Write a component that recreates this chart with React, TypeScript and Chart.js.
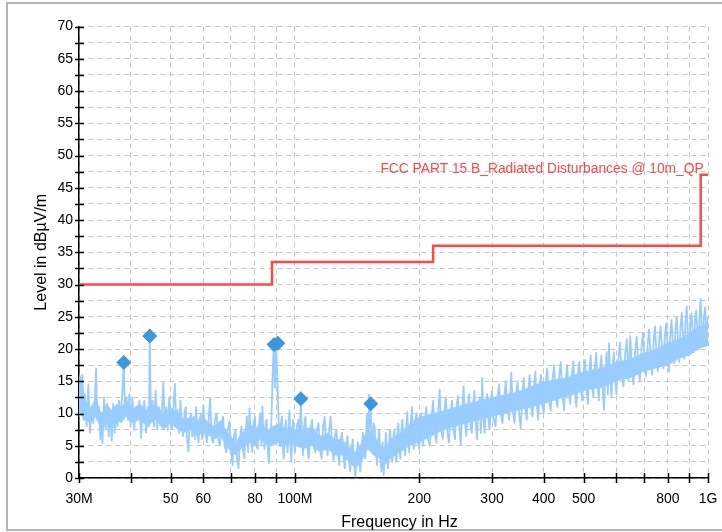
import { useEffect, useRef } from 'react';
import { Chart, registerables } from 'chart.js';

Chart.register(...registerables);

// ---- Data (frequencies in MHz, levels in dBµV/m) ----
const spectrumFreqMHz = [
  30.0, 30.2, 30.4, 30.6, 30.8, 31.0, 31.3, 31.6, 31.9, 32.2, 32.5, 32.8, 33.0, 33.2, 33.5, 33.8, 34.0, 34.2, 34.5, 34.8,
  35.1, 35.4, 35.7, 36.0, 36.3, 36.6, 36.9, 37.2, 37.5, 37.8, 38.1, 38.5, 38.8, 39.1, 39.4, 39.7, 40.0,
  40.4, 40.8, 41.2, 41.6, 42.0, 42.4, 42.8, 43.2, 43.6, 44.0, 44.3, 44.5, 44.8, 45.2, 45.6, 46.0, 46.4, 46.8, 47.2, 47.6,
  48.0, 48.4, 48.8, 49.2, 49.6, 50.0, 50.4, 50.8, 51.2, 51.6, 52.0, 52.4, 52.8, 53.2, 53.6, 54.0, 54.4, 54.8, 55.2, 55.6,
  56.0, 56.4, 56.8, 57.2, 57.6, 58.0, 58.4, 58.8, 59.2, 59.6, 60.0,
  60.6, 61.2, 61.8, 62.3, 62.9, 63.4, 64.0, 64.6, 65.2, 65.8, 66.4, 67.0, 67.6, 68.2, 68.8, 69.4, 70.0, 70.6, 71.2, 71.8,
  72.4, 73.0, 73.6, 74.2, 74.8, 75.4, 76.0, 76.5, 77.0, 77.6, 78.2, 78.8, 79.4, 80.0, 80.6, 81.2, 81.8, 82.4, 82.9, 83.4,
  83.9, 84.4, 84.9, 85.4, 86.0, 86.5, 87.1, 87.6, 88.2, 88.8, 89.4, 90.0, 90.6, 91.2, 91.6, 92.0, 92.5, 93.0, 93.5, 94.0,
  94.5, 95.0, 95.5, 96.0, 96.5, 97.0, 97.5, 98.0, 98.5, 99.0, 99.5, 100.0,
  101, 102, 102.6, 103.3, 104, 104.5, 105.2, 106, 107, 108, 109, 110, 111, 112, 113, 114, 115, 116, 117, 118, 119, 120,
  121, 122, 123, 124, 125, 126, 127, 128, 129, 130, 131, 132, 133, 134, 135, 136, 137, 138, 139, 140, 141, 142, 143, 144,
  145, 146, 147, 148, 149, 149.5, 150.3, 151, 151.8, 152.6, 153.3, 154, 155, 156, 157, 158, 159, 160, 161, 162, 163, 164,
  165, 166, 167, 168, 169, 170, 171, 172, 173, 174, 175, 176, 177, 178, 179, 180, 181, 182, 183.5, 185, 186, 187, 188, 189,
  190.5, 192, 193, 194, 195.5, 197, 198.5, 200,
  202, 204, 206, 208, 210, 212, 214, 216, 218, 220, 222, 224, 226, 228, 230, 232, 234, 236, 238, 240, 242, 244, 246, 248,
  250, 252, 254, 256, 258, 260, 262, 264, 266, 268, 270, 272, 274, 276, 278, 280, 282, 284, 286, 288, 290, 292, 294, 296,
  298, 300, 303, 306, 309, 312, 315, 318, 321, 324, 327, 330, 332, 334, 337, 340, 343, 346, 349, 352, 355, 358, 361, 364,
  367, 370, 373, 376, 379, 382, 385, 388, 391, 394, 397, 400,
  404, 408, 412, 416, 420, 424, 428, 432, 436, 440, 444, 448, 452, 456, 460, 464, 468, 472, 476, 480, 484, 488, 492, 496,
  500, 504, 508, 512, 516, 520, 524, 528, 532, 536, 540, 544, 548, 552, 556, 560, 564, 568, 572, 576, 580, 584, 588, 592,
  596, 600, 606, 612, 618, 624, 630, 636, 642, 648, 654, 660, 666, 672, 678, 684, 690, 696, 702, 708, 714, 720, 726, 732,
  738, 744, 750, 756, 762, 768, 774, 780, 786, 792, 798, 804, 810, 816, 822, 828, 834, 840, 846, 852, 858, 864, 870, 876,
  882, 888, 894, 900, 906, 912, 918, 924, 930, 936, 942, 948, 954, 960, 966, 972, 978, 984, 990, 996, 1000,
];
const spectrumLevel = [
  9.5, 15.8, 12, 16, 9, 13, 8, 14.5, 7, 11, 8.5, 12.5, 17, 9, 11, 6, 10, 5.4, 12.5, 7.5,
  11.5, 6.5, 10.5, 5.8, 11.5, 7, 10, 8, 12, 9, 12, 17.8, 9.5, 12.5, 9, 13, 8,
  12.5, 7.5, 11, 9, 12, 6.2, 10.5, 12, 7, 11, 8, 22, 9.5, 12, 8, 13.5, 7.5, 11, 8.5, 10,
  14.8, 8, 11, 7.5, 12.5, 9, 7.5, 11, 14.6, 8, 10.5, 7, 12, 8, 6.5, 10, 11, 6, 4.1, 9,
  10, 6.5, 9.5, 6, 11, 7.5, 5.5, 9, 10, 6, 11.3,
  7, 5.5, 9, 12.4, 6, 5.5, 9, 10, 6, 5, 8.5, 9.5, 5, 4, 7.5, 8.8, 4.5, 2, 6.5, 7.5,
  3, 1.5, 6, 8, 4.5, 3, 7.5, 9.5, 4, 10.8, 6, 4, 8.5, 9.5, 5, 4.5, 8, 10, 5, 11.1,
  6.5, 4.5, 8.5, 9, 4, 2.3, 7, 8, 15, 20.6, 14, 21, 16, 10, 6, 5, 8.5, 9.5, 4.5, 3,
  7.5, 9, 5, 4, 8.5, 10.5, 5, 2.5, 7, 9, 5.5, 4,
  8, 9, 5, 12, 7, 3.5, 8, 9.5, 5, 3, 7.5, 9, 5, 4, 7.5, 8.5, 4.5, 3, 8, 9.5, 5, 3.5,
  7.5, 9.5, 5, 2.8, 6.5, 7.5, 4, 2, 6, 7, 3.5, 1.5, 5, 6.5, 3, 1, 4.5, 6, 2.5, 0.2, 4, 5.5, 2.5, 1,
  5, 7, 4, 3, 8, 10, 7, 12.9, 8, 10.5, 6, 5, 8.5, 7.9, 4, 2, 6, 7.5, 3, 1, 5.5, 0.5,
  4, 7, 3, 1.5, 5.5, 7.5, 3.5, 2.5, 6, 7.5, 4, 2.5, 7, 8.5, 4.5, 3, 7.5, 9, 5, 3.5, 8, 10.2, 6, 4,
  8.5, 11, 6, 4.5, 9, 10, 5.5, 4.5,
  10, 5, 8, 11, 6, 5, 9, 12, 7, 5.5, 10, 13.7, 7.5, 6, 10.5, 12.5, 7, 5.5, 10, 12, 7.5, 6, 11, 12.7,
  8, 5.2, 10.5, 14.2, 8.5, 6.5, 11, 13, 8, 7, 11.5, 13.5, 8.5, 6, 11, 12.5, 7, 15.5, 9, 7, 11.5, 13, 9, 7.5,
  12, 13.5, 9, 8, 12.5, 14.5, 10, 8.5, 12.5, 15, 10.5, 9, 13, 16.3, 10.5, 8.5, 13, 15, 10, 7.7, 12.5, 15.5, 11, 9,
  13.5, 16, 11, 9.5, 14, 16.5, 11.5, 9, 14, 16, 11.5, 10,
  14.5, 17, 12, 10.5, 15, 17.5, 12.5, 11, 15.5, 18, 13, 10.5, 15, 17.5, 13.5, 11.5, 16, 18.1, 13.5, 11, 16, 18, 14, 12,
  16.5, 18.3, 14, 11.5, 16.5, 19, 14.5, 12.5, 17, 19.4, 15, 12, 17, 19, 14, 10.6, 16.5, 19.5, 13, 20.9, 15, 12.5, 17.5, 19.5,
  15.5, 13, 18, 21, 16.5, 14.2, 19, 21.5, 15, 22, 17.5, 14.5, 19.5, 21.9, 17.5, 15, 20, 22.5, 18.5, 15.8, 20.5, 23, 19, 16,
  21, 23.5, 19.5, 16.5, 21.5, 23.5, 20, 17, 22, 24, 20.5, 16.5, 22, 24.5, 21, 17.8, 23, 25, 21.5, 18, 23.5, 25.6, 22, 18.5,
  24, 26.6, 22.5, 19, 24, 25.5, 22.5, 19.5, 24.5, 26, 23, 20, 25, 27.8, 23, 21, 25, 26.5, 23.5, 21, 25,
];

const coreFreqMHz = [
  30, 31, 32, 33, 34, 35, 36, 37, 38, 39, 40, 42, 44, 46, 48, 50, 52, 54, 56, 58, 60, 62, 64, 66, 68, 70,
  72, 74, 76, 78, 80, 82, 84, 86, 88, 92, 95, 98, 100, 105, 110, 115, 120, 125, 130, 135, 140, 145, 150,
  155, 160, 165, 170, 175, 180, 190, 200, 230, 260, 300, 350, 400, 450, 500, 550, 600, 650, 700, 750, 800,
  850, 900, 950, 1000,
];
const coreLow = [
  10, 9, 8.5, 9.5, 7.5, 8.5, 8, 9, 8.5, 9.5, 8.5, 9, 8, 9, 7.5, 8.5, 7.5, 7, 7.5, 6.5, 7, 6.5, 6, 6.5, 5, 4,
  3.5, 4.5, 5, 5.5, 5, 6, 5.5, 5, 5, 5.5, 5, 5.5, 5, 4.5, 5, 4, 4.5, 3.5, 3.5, 2.5, 1.5, 2.5, 4.5,
  3.5, 3, 2, 3, 3.5, 4, 5, 5.5, 7.5, 8.5, 9.5, 10.5, 11.5, 12.5, 13.5, 14, 15, 15.5, 16.5, 17, 17.5,
  18.5, 19, 20, 20.5,
];
const coreHigh = [
  13.5, 12, 11, 12.5, 10, 11.5, 10.5, 11.5, 11, 12, 10.5, 11.5, 10.5, 11.5, 10, 11, 10, 9, 9.5, 9, 9.5, 8.5, 8, 9, 7.5, 6.5,
  5.5, 7, 7.5, 8.5, 7.5, 8.5, 8, 7.5, 8, 8.5, 7.5, 8, 7.5, 7.5, 8, 6.5, 7, 6, 6, 5, 4, 5.5, 8,
  6.5, 5.5, 4.5, 6, 6.5, 7, 8.5, 9.5, 10.5, 11.5, 12.5, 13.5, 15, 15.5, 16.5, 17, 18, 18.5, 19.5, 20, 21,
  21.5, 22.5, 23.5, 24,
];

const limitFreqMHz = [30, 88, 216, 960, 1000];
const limitLevel = [30, 33.5, 36, 47, 47];

const peakFreqMHz = [38.5, 44.5, 89.0, 90.9, 103.3, 152.6];
const peakLevel = [17.9, 22.0, 20.7, 20.9, 12.3, 11.5];

const xGridMHz = [30, 40, 50, 60, 70, 80, 90, 100, 200, 300, 400, 500, 600, 700, 800, 900, 1000];
const xTickValues = [30, 50, 60, 80, 100, 200, 300, 400, 500, 800, 1000];
const xTickLabels = ['30M', '50', '60', '80', '100M', '200', '300', '400', '500', '800', '1G'];

const yMin = 0;
const yMax = 70;
const yStep = 2.5;
const yLabelStep = 5;

const limitLabel = 'FCC PART 15 B_Radiated Disturbances @ 10m_QP';
const xTitle = 'Frequency in Hz';
const yTitle = 'Level in dBµV/m';

const FONT = '"Liberation Sans", Arial, Helvetica, sans-serif';
const SPECTRUM_COLOR = 'rgb(153,204,255)';
const LIMIT_COLOR = 'rgb(255,72,72)';
const PEAK_COLOR = 'rgb(58,152,222)';
const GRID_COLOR = '#c6c6c6';

const decorPlugin = {
  id: 'decor',
  beforeDraw(chart: any) {
    const ctx = chart.ctx;
    ctx.save();
    ctx.strokeStyle = '#b4b4b4';
    ctx.lineWidth = 2;
    ctx.beginPath();
    ctx.moveTo(730, 3);
    ctx.lineTo(7, 3);
    ctx.lineTo(7, 530);
    ctx.lineTo(730, 530);
    ctx.stroke();
    ctx.restore();
  },
  afterDraw(chart: any) {
    const ctx = chart.ctx;
    const area = chart.chartArea;
    const xs = chart.scales.x;
    const ys = chart.scales.y;
    ctx.save();
    // crossing tick marks
    ctx.strokeStyle = '#000';
    ctx.lineWidth = 1.5;
    ctx.beginPath();
    xs.ticks.forEach((t: any) => {
      const px = Math.round(xs.getPixelForValue(t.value)) + 0.5;
      ctx.moveTo(px, area.bottom - 5);
      ctx.lineTo(px, area.bottom + 5);
    });
    ys.ticks.forEach((t: any) => {
      const py = Math.round(ys.getPixelForValue(t.value)) + 0.5;
      ctx.moveTo(area.left - 4, py);
      ctx.lineTo(area.left + 5, py);
    });
    ctx.stroke();

    // limit label
    ctx.fillStyle = LIMIT_COLOR;
    ctx.font = `13.8px ${FONT}`;
    ctx.textAlign = 'right';
    ctx.textBaseline = 'alphabetic';
    ctx.fillText(
      limitLabel,
      xs.getPixelForValue(limitFreqMHz[3]) + 3,
      ys.getPixelForValue(limitLevel[3]) - 2
    );

    // axis titles
    ctx.fillStyle = '#000';
    ctx.font = `16px ${FONT}`;
    ctx.textAlign = 'center';
    ctx.textBaseline = 'alphabetic';
    ctx.fillText(xTitle, (area.left + area.right) / 2 + 6, 526.5);

    ctx.translate(42, (area.top + area.bottom) / 2);
    ctx.rotate(-Math.PI / 2);
    ctx.textBaseline = 'middle';
    ctx.fillText(yTitle, 0, 0);
    ctx.restore();
  },
};

export default function App() {
  const canvasRef = useRef<HTMLCanvasElement | null>(null);

  useEffect(() => {
    if (!canvasRef.current) return;
    const chart = new Chart(canvasRef.current, {
      type: 'line',
      data: {
        datasets: [
          {
            label: 'Peaks',
            data: peakFreqMHz.map((f, i) => ({ x: f, y: peakLevel[i] })),
            showLine: false,
            pointStyle: 'rectRot',
            pointRadius: 7.5,
            pointHoverRadius: 7.5,
            pointBackgroundColor: PEAK_COLOR,
            pointBorderWidth: 0,
            borderColor: PEAK_COLOR,
            order: 1,
          } as any,
          {
            label: 'Limit',
            data: limitFreqMHz.map((f, i) => ({ x: f, y: limitLevel[i] })),
            stepped: 'before',
            borderColor: LIMIT_COLOR,
            borderWidth: 2.5,
            pointRadius: 0,
            fill: false,
            order: 2,
          } as any,
          {
            label: 'Spectrum',
            data: spectrumFreqMHz.map((f, i) => ({ x: f, y: spectrumLevel[i] })),
            borderColor: SPECTRUM_COLOR,
            borderWidth: 1.8,
            borderJoinStyle: 'round',
            pointRadius: 0,
            tension: 0,
            fill: false,
            order: 3,
          } as any,
          {
            label: 'CoreLow',
            data: coreFreqMHz.map((f, i) => ({ x: f, y: coreLow[i] })),
            borderWidth: 0,
            borderColor: 'rgba(0,0,0,0)',
            pointRadius: 0,
            fill: false,
            order: 4,
          } as any,
          {
            label: 'CoreHigh',
            data: coreFreqMHz.map((f, i) => ({ x: f, y: coreHigh[i] })),
            borderWidth: 0,
            borderColor: 'rgba(0,0,0,0)',
            backgroundColor: SPECTRUM_COLOR,
            pointRadius: 0,
            fill: '-1',
            order: 4,
          } as any,
        ],
      },
      options: {
        responsive: false,
        animation: false,
        events: [],
        layout: { padding: { top: 26.5, right: 14, left: 0, bottom: 0 } },
        plugins: {
          legend: { display: false },
          tooltip: { enabled: false },
        },
        scales: {
          x: {
            type: 'logarithmic',
            min: 30,
            max: 1000,
            afterBuildTicks: (scale: any) => {
              scale.ticks = xGridMHz.map((v) => ({ value: v }));
            },
            afterFit: (scale: any) => {
              scale.height = 54;
            },
            ticks: {
              autoSkip: false,
              maxRotation: 0,
              minRotation: 0,
              padding: 0,
              color: '#000',
              font: { family: FONT, size: 14 },
              callback: (value: any) => {
                const idx = xTickValues.indexOf(Number(value));
                return idx >= 0 ? xTickLabels[idx] : '';
              },
            },
            grid: {
              color: GRID_COLOR,
              lineWidth: 1,
              drawTicks: true,
              tickLength: 13,
              tickColor: 'rgba(0,0,0,0)',
            },
            border: { display: true, color: '#000', width: 1.5, dash: [5, 4] },
          },
          y: {
            type: 'linear',
            min: yMin,
            max: yMax,
            afterFit: (scale: any) => {
              scale.width = 79;
            },
            ticks: {
              stepSize: yStep,
              autoSkip: false,
              padding: 0,
              color: '#000',
              font: { family: FONT, size: 14 },
              callback: (value: any) => (Number(value) % yLabelStep === 0 ? String(value) : ''),
            },
            grid: {
              color: GRID_COLOR,
              lineWidth: 1,
              drawTicks: true,
              tickLength: 6,
              tickColor: 'rgba(0,0,0,0)',
            },
            border: { display: true, color: '#000', width: 1.5, dash: [5, 4] },
          },
        },
      } as any,
      plugins: [decorPlugin],
    });
    return () => chart.destroy();
  }, []);

  return (
    <div style={{ position: 'fixed', left: 0, top: 0, width: 722, height: 532, background: '#fff' }}>
      <canvas ref={canvasRef} width={722} height={532} style={{ width: 722, height: 532, display: 'block' }} />
    </div>
  );
}
